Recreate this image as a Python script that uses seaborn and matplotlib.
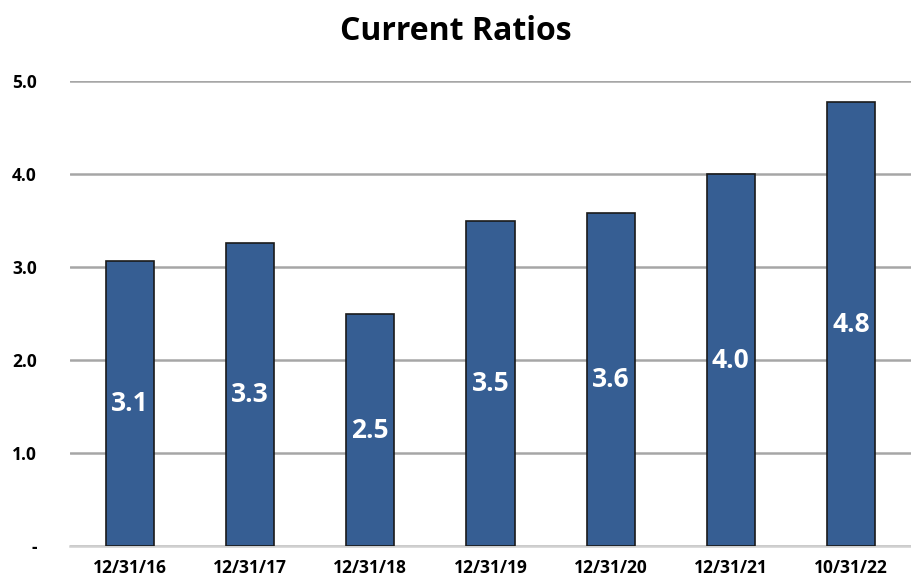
import matplotlib
matplotlib.use("Agg")
import matplotlib.pyplot as plt
import seaborn as sns
import pandas as pd
import numpy as np

categories = ["12/31/16", "12/31/17", "12/31/18", "12/31/19", "12/31/20", "12/31/21", "10/31/22"]
values = [3.06, 3.26, 2.49, 3.50, 3.58, 4.00, 4.77]
labels = ["3.1", "3.3", "2.5", "3.5", "3.6", "4.0", "4.8"]
yticks = [0, 1, 2, 3, 4, 5]
ytick_labels = ["-", "1.0", "2.0", "3.0", "4.0", "5.0"]

sns.set_theme(style="white")
plt.rcParams['font.family'] = ['Open Sans', 'DejaVu Sans']
plt.rcParams['text.color'] = 'black'
plt.rcParams['xtick.color'] = 'black'
plt.rcParams['ytick.color'] = 'black'

df = pd.DataFrame({"cat": categories, "val": values})

fig = plt.figure(figsize=(9.11, 5.81), dpi=100)
ax = fig.add_axes([0.0768, 0.0602, 0.9232, 0.8004])

sns.barplot(data=df, x="cat", y="val", color="#365E93", width=0.4,
            edgecolor="#1a1a1a", linewidth=1.2, saturation=1, ax=ax, zorder=3)

ax.set_ylim(0, 5.0)
ax.set_xlim(-0.5, 6.5)
ax.set_yticks(yticks)
ax.set_yticklabels(ytick_labels, fontweight="bold", fontsize=12.5)
ax.yaxis.grid(True, color="#a6a6a6", linewidth=1.8, zorder=0)
ax.set_axisbelow(True)
ax.set_xlabel("")
ax.set_ylabel("")
for s in ["top", "right", "left"]:
    ax.spines[s].set_visible(False)
ax.spines["bottom"].set_color("#d0d0d0")
ax.spines["bottom"].set_linewidth(1.8)
ax.tick_params(axis="y", length=0, pad=24)
ax.tick_params(axis="x", length=0, pad=9)
for t in ax.get_xticklabels():
    t.set_fontweight("bold")
    t.set_fontsize(12.5)
ax.set_xticks(np.arange(-0.5, 7.0, 1.0), minor=True)
ax.tick_params(axis="x", which="minor", length=5, color="#d0d0d0", width=1.5, direction="out")

for i, (v, lab) in enumerate(zip(values, labels)):
    ax.text(i, v / 2, lab, ha="center", va="center", color="white",
            fontweight="bold", fontsize=19, zorder=4)

fig.text(0.5, 0.945, "Current Ratios", ha="center", va="center",
         fontweight="bold", fontsize=23)

fig.savefig("out.png", dpi=100)
